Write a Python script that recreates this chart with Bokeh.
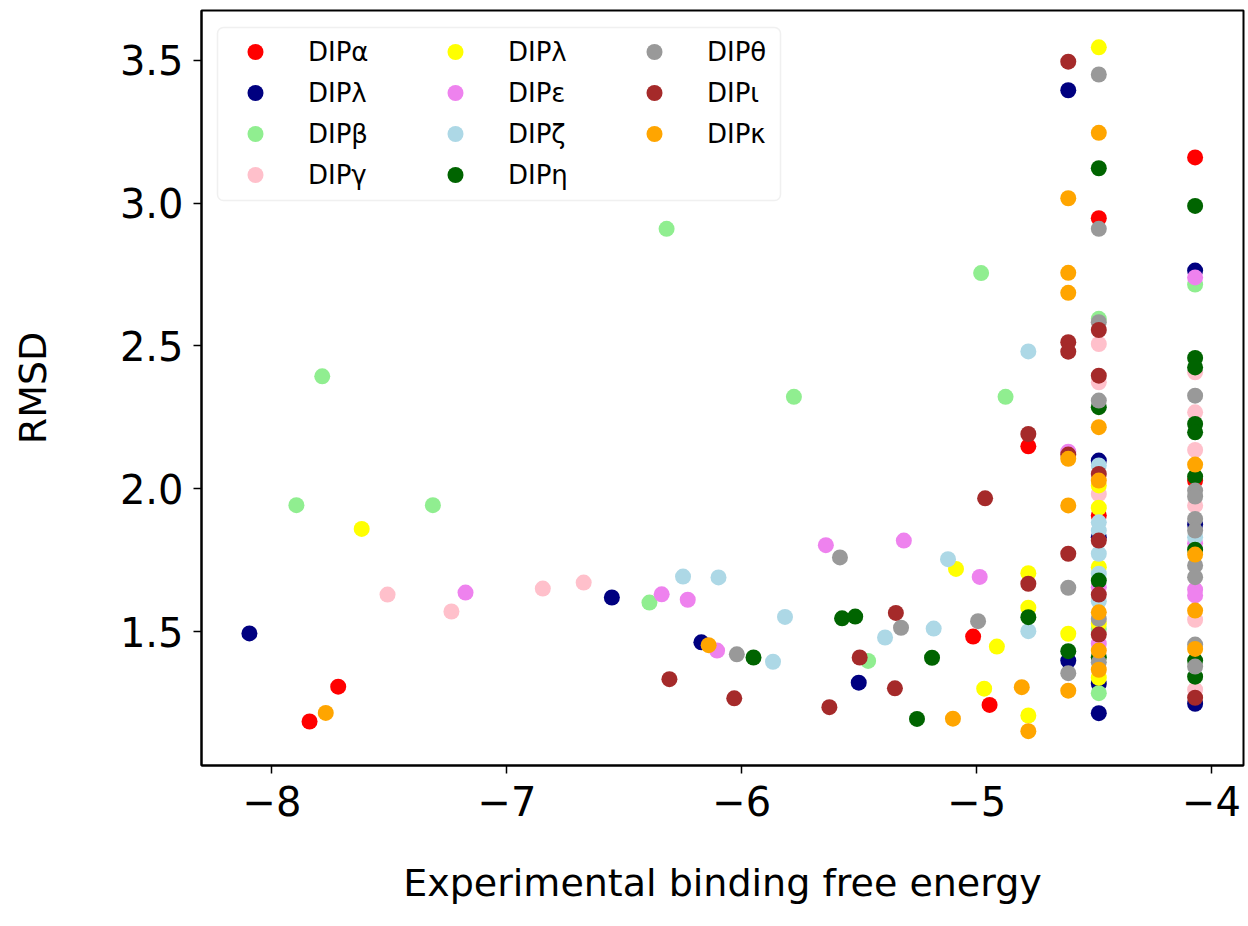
from bokeh.plotting import figure
from bokeh.models import Legend, LegendItem, FixedTicker, Range1d, BoxAnnotation, PrintfTickFormatter
from bokeh.embed import file_html
from bokeh.resources import INLINE

# ---------------- data ----------------
series_names = ["DIPα", "DIPλ", "DIPβ", "DIPγ", "DIPλ", "DIPε",
                "DIPζ", "DIPη", "DIPθ", "DIPι", "DIPκ"]
series_colors = ["red", "navy", "lightgreen", "pink", "yellow", "violet",
                 "lightblue", "darkgreen", "#999999", "brown", "orange"]

alpha_x = [-7.84, -7.718, -5.015, -4.945, -4.78, -4.48, -4.48, -4.07, -4.07]
alpha_y = [1.186, 1.308, 1.483, 1.244, 2.149, 2.947, 1.907, 3.16, 2.029]

lambda1_x = [-8.096, -6.553, -6.172, -5.502, -4.61, -4.61, -4.48, -4.48, -4.48, -4.48, -4.07, -4.07, -4.07]
lambda1_y = [1.494, 1.62, 1.463, 1.322, 3.395, 1.399, 2.099, 1.831, 1.318, 1.215, 2.764, 1.875, 1.248]

beta_x = [-7.896, -7.786, -7.315, -6.32, -6.393, -5.778, -5.462, -4.981, -4.877, -4.48, -4.48, -4.48, -4.07]
beta_y = [1.943, 2.394, 1.943, 2.91, 1.602, 2.322, 1.398, 2.755, 2.322, 2.595, 1.51, 1.285, 2.715]

gamma_x = [-7.508, -7.236, -6.847, -6.673, -4.48, -4.48, -4.48, -4.07, -4.07, -4.07, -4.07, -4.07, -4.07]
gamma_y = [1.63, 1.571, 1.651, 1.672, 2.507, 2.373, 1.982, 2.408, 2.268, 2.136, 1.942, 1.542, 1.297]

lambda2_x = [-7.618, -5.088, -4.914, -4.968, -4.78, -4.78, -4.78, -4.61, -4.48, -4.48, -4.48, -4.48, -4.48, -4.48]
lambda2_y = [1.86, 1.72, 1.448, 1.301, 1.705, 1.584, 1.207, 1.493, 3.545, 2.012, 1.934, 1.726, 1.528, 1.339]

epsilon_x = [-7.176, -6.341, -6.23, -6.105, -5.642, -5.31, -4.987, -4.61, -4.48, -4.48, -4.07, -4.07, -4.07, -4.07]
epsilon_y = [1.637, 1.631, 1.612, 1.434, 1.803, 1.819, 1.692, 2.13, 1.656, 1.458, 2.74, 1.81, 1.647, 1.627]

zeta_x = [-6.25, -6.099, -5.867, -5.816, -5.39, -5.183, -5.122, -4.78, -4.78, -4.48, -4.48, -4.48, -4.48, -4.48, -4.48, -4.07]
zeta_y = [1.693, 1.69, 1.395, 1.552, 1.48, 1.511, 1.754, 2.481, 1.502, 2.082, 1.883, 1.854, 1.773, 1.703, 1.607, 1.831]

eta_x = [-5.95, -5.573, -5.517, -5.254, -5.19, -4.78, -4.61, -4.48, -4.48, -4.48, -4.48,
         -4.07, -4.07, -4.07, -4.07, -4.07, -4.07, -4.07, -4.07, -4.07]
eta_y = [1.41, 1.547, 1.553, 1.195, 1.409, 1.551, 1.432, 3.122, 2.286, 1.679, 1.411,
         2.99, 2.458, 2.425, 2.227, 2.198, 2.043, 1.787, 1.399, 1.343]

theta_x = [-6.021, -5.582, -5.322, -4.994, -4.61, -4.61, -4.48, -4.48, -4.48, -4.48, -4.48, -4.48,
           -4.07, -4.07, -4.07, -4.07, -4.07, -4.07, -4.07, -4.07, -4.07]
theta_y = [1.421, 1.76, 1.514, 1.537, 1.654, 1.355, 3.45, 2.91, 2.583, 2.309, 1.545, 1.393,
           2.326, 1.994, 1.973, 1.895, 1.854, 1.732, 1.691, 1.455, 1.378]

iota_x = [-6.308, -6.032, -5.627, -5.498, -5.344, -5.348, -4.964, -4.78, -4.78, -4.61, -4.61, -4.61,
          -4.61, -4.61, -4.48, -4.48, -4.48, -4.48, -4.48, -4.48, -4.07]
iota_y = [1.334, 1.267, 1.236, 1.41, 1.566, 1.302, 1.967, 2.192, 1.668, 3.495, 2.513, 2.48,
          2.12, 1.773, 2.556, 2.396, 2.052, 1.819, 1.63, 1.49, 1.269]

kappa_x = [-7.771, -6.141, -5.101, -4.808, -4.78, -4.61, -4.61, -4.61, -4.61, -4.61, -4.61,
           -4.48, -4.48, -4.48, -4.48, -4.48, -4.48, -4.07, -4.07, -4.07, -4.07]
kappa_y = [1.216, 1.453, 1.196, 1.306, 1.152, 3.017, 2.756, 2.686, 2.105, 1.942, 1.294,
           3.246, 2.216, 2.029, 1.568, 1.434, 1.367, 2.085, 1.77, 1.574, 1.44]

series_x = [alpha_x, lambda1_x, beta_x, gamma_x, lambda2_x, epsilon_x,
            zeta_x, eta_x, theta_x, iota_x, kappa_x]
series_y = [alpha_y, lambda1_y, beta_y, gamma_y, lambda2_y, epsilon_y,
            zeta_y, eta_y, theta_y, iota_y, kappa_y]

x_ticks = [-8, -7, -6, -5, -4]
x_tick_labels = ["−8", "−7", "−6", "−5", "−4"]
y_ticks = [1.5, 2.0, 2.5, 3.0, 3.5]

x_label = "Experimental binding free energy"
y_label = "RMSD"

# ---------------- figure ----------------
FONT = "DejaVu Sans"
FRAME_H = 755

p = figure(frame_width=1042, frame_height=FRAME_H,
           x_range=Range1d(-8.30, -3.864), y_range=Range1d(1.032, 3.674),
           output_backend="svg", toolbar_location=None,
           min_border_left=201, min_border_right=3, min_border_top=10, min_border_bottom=150)
p.background_fill_color = "white"
p.border_fill_color = "white"
p.outline_line_color = "black"
p.outline_line_width = 2
p.xgrid.grid_line_color = None
p.ygrid.grid_line_color = None

for ax in (p.xaxis[0], p.yaxis[0]):
    ax.axis_line_color = "black"
    ax.axis_line_width = 2
    ax.major_tick_line_color = "black"
    ax.major_tick_line_width = 1.5
    ax.major_tick_out = 8
    ax.major_tick_in = 0
    ax.minor_tick_line_color = None
    ax.major_label_text_font = FONT
    ax.major_label_text_font_size = "40px"
    ax.major_label_text_color = "black"
    ax.axis_label_text_font = FONT
    ax.axis_label_text_font_size = "38px"
    ax.axis_label_text_font_style = "normal"
    ax.axis_label_text_color = "black"

p.xaxis.ticker = FixedTicker(ticks=x_ticks)
p.xaxis.major_label_overrides = dict(zip(x_ticks, x_tick_labels))
p.yaxis.ticker = FixedTicker(ticks=y_ticks)
p.yaxis.formatter = PrintfTickFormatter(format="%.1f")
p.xaxis.major_label_standoff = 12
p.yaxis.major_label_standoff = 10
p.xaxis.axis_label = x_label
p.yaxis.axis_label = y_label
p.xaxis.axis_label_standoff = 42
p.yaxis.axis_label_standoff = 62

items = []
for name, color, xs, ys in zip(series_names, series_colors, series_x, series_y):
    r = p.scatter(xs, ys, size=16, marker="circle", fill_color=color, line_color=color, line_width=0)
    items.append(LegendItem(label=name, renderers=[r]))

# legend frame
box = BoxAnnotation(left=16, right=579, top=FRAME_H - 17, bottom=FRAME_H - 190,
                    left_units="screen", right_units="screen",
                    top_units="screen", bottom_units="screen",
                    fill_color="white", fill_alpha=0.85,
                    line_color="#cccccc", line_width=1.5, border_radius=6)
p.add_layout(box)

groups = [(items[0:4], 34), (items[4:8], 234), (items[8:11], 433)]
for grp, vx in groups:
    h = 41 * len(grp)
    leg = Legend(items=grp, location=(vx, FRAME_H - 21 - h),
                 orientation="vertical", padding=0, spacing=0, margin=0,
                 glyph_width=40, glyph_height=41, label_height=41,
                 label_standoff=33,
                 label_text_font=FONT, label_text_font_size="26px",
                 label_text_color="black",
                 border_line_color=None, background_fill_alpha=0)
    p.add_layout(leg)

open("out.html", "w").write(file_html(p, INLINE))
